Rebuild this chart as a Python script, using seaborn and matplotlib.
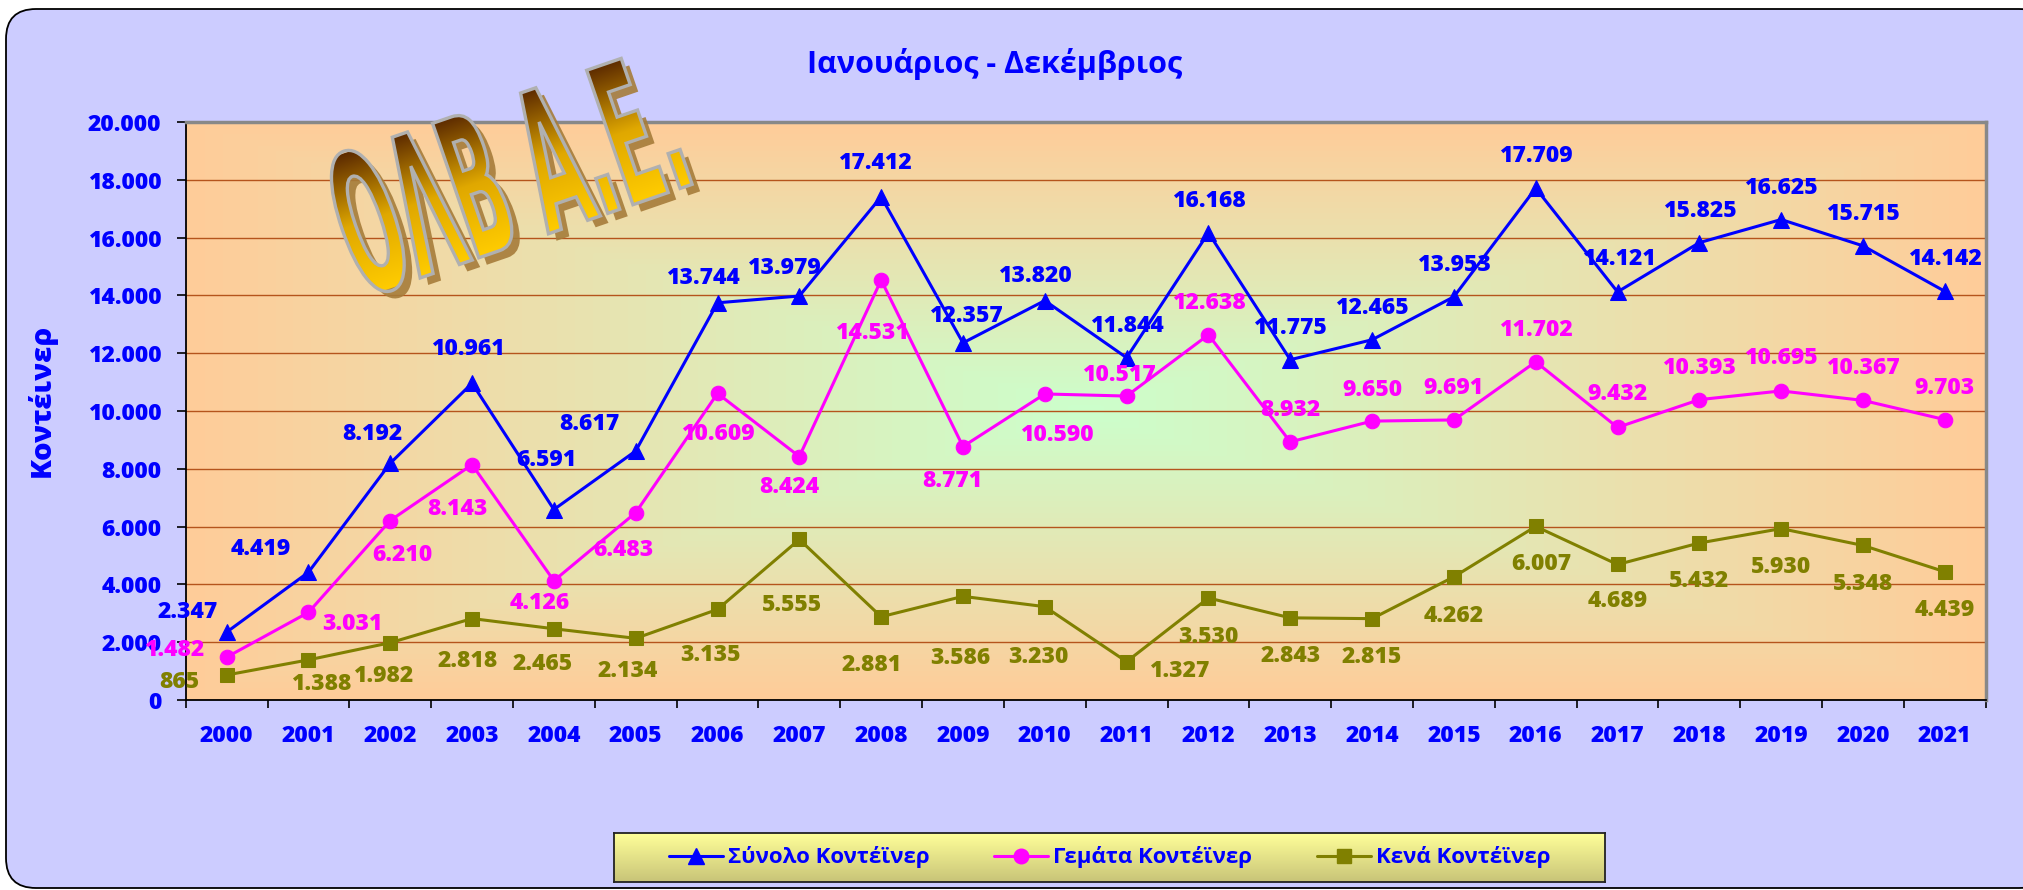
import numpy as np
import matplotlib
matplotlib.use("Agg")
import matplotlib.pyplot as plt
import seaborn as sns
from matplotlib.lines import Line2D
from matplotlib.patches import FancyBboxPatch, PathPatch
from matplotlib.textpath import TextPath
from matplotlib.font_manager import FontProperties
from matplotlib.transforms import Affine2D, IdentityTransform
from matplotlib.colors import LinearSegmentedColormap

# data
years = ["2000", "2001", "2002", "2003", "2004", "2005", "2006", "2007", "2008", "2009", "2010",
         "2011", "2012", "2013", "2014", "2015", "2016", "2017", "2018", "2019", "2020", "2021"]
total = [2347, 4419, 8192, 10961, 6591, 8617, 13744, 13979, 17412, 12357, 13820,
         11844, 16168, 11775, 12465, 13953, 17709, 14121, 15825, 16625, 15715, 14142]
full = [1482, 3031, 6210, 8143, 4126, 6483, 10609, 8424, 14531, 8771, 10590,
        10517, 12638, 8932, 9650, 9691, 11702, 9432, 10393, 10695, 10367, 9703]
empty = [865, 1388, 1982, 2818, 2465, 2134, 3135, 5555, 2881, 3586, 3230,
         1327, 3530, 2843, 2815, 4262, 6007, 4689, 5432, 5930, 5348, 4439]
series_names = ["Σύνολο Κοντέϊνερ", "Γεμάτα Κοντέϊνερ", "Κενά Κοντέϊνερ"]
title = "Ιανουάριος - Δεκέμβριος"
ylabel = "Κοντέινερ"
logo_text = "ΟΛΒ Α.Ε."

# label offsets in pixels (dx, dy up) - hand placed like the original
off_total = [(-39, 22), (-48, 25), (-18, 31), (-4, 36), (-8, 52), (-46, 29), (-15, 27), (-15, 30),
             (-6, 36), (3, 29), (-10, 27), (0, 34), (0, 34), (0, 34), (0, 34), (0, 34), (0, 34),
             (1, 35), (0, 34), (0, 34), (0, 34), (0, 34)]
off_full = [(-52, 9), (44, -10), (12, -32), (-15, -42), (-14, -20), (-12, -35), (0, -39), (-10, -28),
            (-9, -51), (-11, -32), (12, -39), (-8, 23), (0, 34), (0, 34), (0, 33), (0, 34), (0, 34),
            (0, 35), (0, 34), (0, 35), (0, 34), (0, 34)]
off_empty = [(-47, -5), (13, -22), (-7, -31), (-4, -40), (-11, -33), (-8, -31), (-7, -44), (-7, -64),
             (-9, -46), (-3, -60), (-6, -48), (53, -7), (0, -37), (0, -36), (0, -36), (0, -37), (6, -36),
             (0, -35), (0, -36), (0, -36), (0, -37), (0, -36)]

BLUE, MAGENTA, OLIVE = "#0000FF", "#FF00FF", "#808000"
FONT = ["Open Sans", "DejaVu Sans"]
NUMW = 800  # extra bold where the font has it


def fmt(v):
    return f"{v:,}".replace(",", ".")


sns.set_theme(style="white")
plt.rcParams["font.family"] = FONT
plt.rcParams["font.weight"] = "bold"

W, H = 2023, 890
fig = plt.figure(figsize=(W / 100, H / 100), dpi=100)
fig.patch.set_facecolor("white")

# rounded lavender background, drawn below the axes
frame = FancyBboxPatch((6, 2), W + 20, H - 11, boxstyle="round,pad=0,rounding_size=30",
                       fc="#CCCCFF", ec="black", lw=1.3, transform=IdentityTransform(), zorder=-10)
fig.add_artist(frame)

ax = fig.add_axes([185.7 / W, 190 / H, 1800 / W, 578 / H])

# plot area gradient (from centre)
gx = np.linspace(-1, 1, 600)
gy = np.linspace(-1, 1, 300)
U, V = np.meshgrid(gx, gy)
t = np.maximum(np.abs(U), np.abs(V))
c0 = np.array([0xCC, 0xFF, 0xCC]) / 255
c1 = np.array([0xFF, 0xCC, 0x99]) / 255
bg = c0 + (c1 - c0) * t[..., None]
ax.imshow(bg, extent=[0, 1, 0, 1], transform=ax.transAxes, aspect="auto", zorder=0,
          interpolation="bilinear")

x = list(range(len(years)))
specs = [(total, BLUE, "^", 11, off_total), (full, MAGENTA, "o", 10.5, off_full),
         (empty, OLIVE, "s", 10.5, off_empty)]
for vals, color, marker, ms, offs in specs:
    sns.lineplot(x=x, y=vals, color=color, marker=marker, markersize=ms, mec=color, mfc=color,
                 lw=2.2, ax=ax, zorder=3)
    for xi, v, (dx, dy) in zip(x, vals, offs):
        ax.annotate(fmt(v), xy=(xi, v), xytext=(dx, dy - 2), textcoords="offset pixels",
                    ha="center", va="center", fontsize=16.5, color=color, fontweight=NUMW,
                    zorder=4)

ax.set_xlim(-0.5, len(years) - 0.5)
ax.set_ylim(0, 20000)
ax.set_xticks(np.arange(-0.5, len(years), 1))
ax.set_xticklabels([])
ax.set_xticks(x, minor=True)
ax.set_xticklabels(years, minor=True, fontweight=NUMW)
ax.tick_params(axis="x", which="major", direction="out", length=6, width=1.2, color="black",
               bottom=True)
ax.tick_params(axis="x", which="minor", length=0, pad=17, labelsize=16.5, labelcolor=BLUE,
               bottom=True)
yt = list(range(0, 20001, 2000))
ax.set_yticks(yt)
ax.set_yticklabels([fmt(v) for v in yt], fontweight=NUMW)
ax.tick_params(axis="y", direction="out", length=6.5, width=1.2, color="black", pad=11,
               labelsize=16.5, labelcolor=BLUE, left=True)
ax.yaxis.grid(True, color="#B5541C", lw=1.0)
ax.xaxis.grid(False)
ax.set_axisbelow(True)
ax.set_xlabel("")
ax.set_ylabel("")
for s in ["left", "bottom"]:
    ax.spines[s].set_color("black")
    ax.spines[s].set_linewidth(1.3)
for s in ["top", "right"]:
    ax.spines[s].set_color("#888888")
    ax.spines[s].set_linewidth(2.5)

fig.text(42 / W, (H - 400) / H, ylabel, rotation=90, ha="center", va="center", fontsize=21,
         color=BLUE, fontweight=NUMW)
fig.text(995 / W, (H - 64) / H, title, ha="center", va="center", fontsize=22, color=BLUE,
         fontweight="bold")

# legend box with gradient
lg = fig.add_axes([614 / W, (H - 882) / H, 991 / W, 49 / H])
lgrad = np.linspace(0, 1, 100)[:, None, None]
ctop = np.array([0xFF, 0xFF, 0x99]) / 255
cbot = np.array([0xC8, 0xC4, 0x78]) / 255
limg = ctop + (cbot - ctop) * lgrad
lg.imshow(np.repeat(limg, 4, axis=1), extent=[0, 1, 0, 1], aspect="auto", origin="upper")
lg.set_xlim(0, 1)
lg.set_ylim(0, 1)
lg.set_xticks([])
lg.set_yticks([])
for s in lg.spines.values():
    s.set_color("#222222")
    s.set_linewidth(1.3)
handles = [Line2D([], [], color=c, marker=m, markersize=ms, mec=c, mfc=c, lw=2.2)
           for _, c, m, ms, _ in specs]
lg.legend(handles, series_names, loc="center", ncol=3, frameon=False, handlelength=2.43,
          handletextpad=0.23, columnspacing=2.9, labelcolor=BLUE,
          prop=FontProperties(family=FONT, weight="bold", size=16))

# logo (word-art style)
la = fig.add_axes([0, 0, 1, 1], zorder=5)
la.set_xlim(0, W)
la.set_ylim(0, H)
la.axis("off")
la.patch.set_alpha(0)
tp = TextPath((0, 0), logo_text, size=100, prop=FontProperties(family="DejaVu Sans", weight="bold"))
bb = tp.get_extents()
local = Affine2D().scale(0.72, 1.95).rotate_deg(19).translate(362, 592)
shadow = PathPatch(tp, transform=local + Affine2D().translate(8, -7) + la.transData,
                   fc="#A67C3A", ec="none", alpha=0.9)
la.add_patch(shadow)
outline = PathPatch(tp, transform=local + la.transData, fc="none", ec="#B0B0B0", lw=2.4, zorder=3)
la.add_patch(outline)
cmap = LinearSegmentedColormap.from_list("gold", ["#FFCC00", "#E0A800", "#5C2A00"])
gimg = np.linspace(0, 1, 256)[:, None]
im = la.imshow(np.repeat(gimg, 4, axis=1), cmap=cmap, extent=[bb.x0, bb.x1, 0, 73],
               origin="lower", aspect="auto", transform=local + la.transData, zorder=2)
im.set_clip_path(outline)
la.set_xlim(0, W)
la.set_ylim(0, H)

fig.savefig("out.png", dpi=100)
